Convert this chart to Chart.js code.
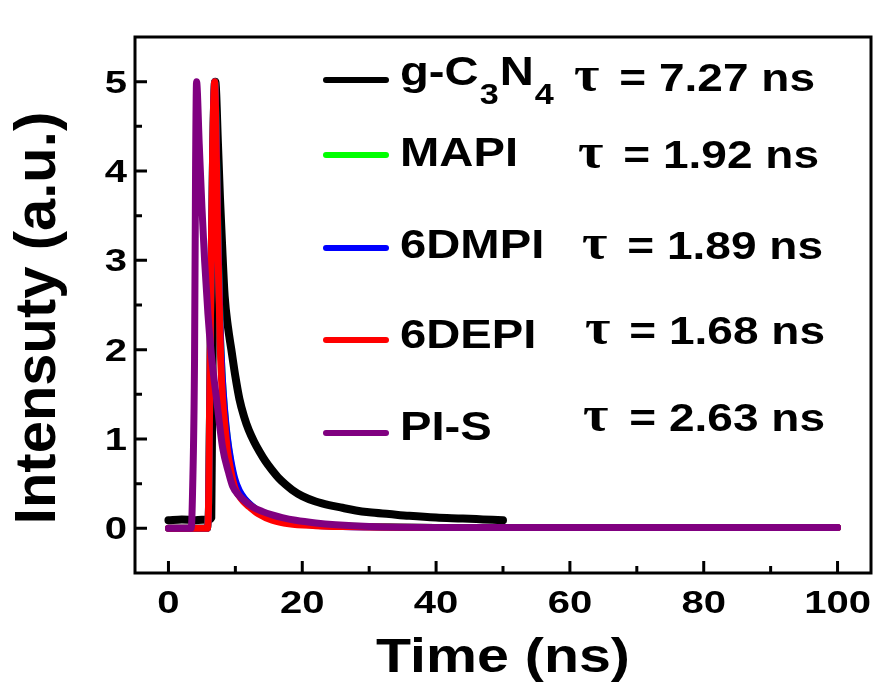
<!DOCTYPE html>
<html><head><meta charset="utf-8">
<script src="https://cdn.jsdelivr.net/npm/chart.js@4.4.0/dist/chart.umd.min.js"></script>
<style>html,body{margin:0;padding:0;background:#fff}#wrap{width:873px;height:684px;position:relative}</style>
</head><body><div id="wrap"><canvas id="c" width="873" height="684"></canvas></div>
<script>
// ---- data ----
const seriesNames = ['g-C3N4', 'MAPI', '6DMPI', '6DEPI', 'PI-S'];
const lifetimes = ['7.27', '1.92', '1.89', '1.68', '2.63'];
const seriesColors = ['#000000', '#00ff00', '#0000ff', '#ff0000', '#800080'];

const gcnTime = [0, 2, 4, 6, 6.4, 6.65, 7.0, 7.4, 7.7, 8.0, 8.4, 8.9, 9.4, 10.0, 10.6, 11.3, 12.0, 12.8, 13.6, 14.5, 15.5, 16.5, 17.5, 18.5, 20, 22, 24, 26, 28, 30, 33, 36, 40, 44, 47, 50];
const gcnInt  = [0.09, 0.1, 0.09, 0.1, 0.12, 2.5, 5.0, 4.3, 3.7, 3.2, 2.6, 2.25, 2.0, 1.7, 1.45, 1.25, 1.1, 0.97, 0.86, 0.75, 0.65, 0.56, 0.49, 0.43, 0.36, 0.3, 0.26, 0.23, 0.2, 0.18, 0.16, 0.14, 0.12, 0.11, 0.1, 0.09];

const mapiTime = [0, 5.8, 6.0, 6.3, 6.6, 6.9, 7.15, 7.4, 7.7, 8.0, 8.4, 8.8, 9.3, 9.9, 10.5, 11.2, 12.1, 13.5, 15.5, 18, 22, 26, 30, 40, 50, 60, 70, 80, 90, 100];
const mapiInt  = [0, 0, 0.3, 2.5, 4.2, 5.0, 4.3, 3.2, 2.3, 1.75, 1.3, 1.0, 0.74, 0.53, 0.42, 0.34, 0.27, 0.19, 0.12, 0.07, 0.04, 0.025, 0.02, 0.01, 0.01, 0.01, 0.01, 0.01, 0.01, 0.01];

const dmpiTime = [0, 5.8, 6.0, 6.3, 6.6, 6.9, 7.15, 7.4, 7.7, 8.0, 8.4, 8.8, 9.3, 9.9, 10.6, 11.4, 12.3, 13.5, 15.5, 18, 22, 26, 30, 40, 50, 60, 70, 80, 90, 100];
const dmpiInt  = [0, 0, 0.3, 2.5, 4.2, 5.0, 4.3, 3.2, 2.3, 1.75, 1.32, 1.02, 0.77, 0.56, 0.42, 0.33, 0.26, 0.19, 0.12, 0.065, 0.035, 0.02, 0.015, 0.01, 0.01, 0.01, 0.01, 0.01, 0.01, 0.01];

const depiTime = [0, 5.8, 6.0, 6.3, 6.6, 6.9, 7.15, 7.4, 7.6, 7.8, 8.1, 8.5, 8.8, 9.3, 9.9, 10.5, 11.2, 12.1, 13.5, 15.5, 18, 22, 26, 30, 40, 50, 60, 70, 80, 90, 100];
const depiInt  = [0, 0, 0.3, 2.5, 4.2, 5.0, 4.2, 3.1, 2.5, 1.9, 1.44, 1.1, 0.88, 0.65, 0.46, 0.37, 0.3, 0.24, 0.16, 0.09, 0.05, 0.03, 0.02, 0.015, 0.01, 0.01, 0.01, 0.01, 0.01, 0.01, 0.01];

const pisTime = [0, 3.4, 3.6, 3.9, 4.05, 4.2, 4.6, 5.0, 5.4, 5.9, 6.4, 7.2, 8.1, 9.0, 9.6, 10.5, 11.5, 12.6, 14, 15.5, 17, 19, 22, 25, 30, 40, 50, 60, 70, 80, 90, 100];
const pisInt  = [0, 0, 0.4, 1.9, 4.0, 5.0, 4.3, 3.6, 3.0, 2.4, 1.95, 1.44, 0.9, 0.62, 0.47, 0.37, 0.3, 0.24, 0.19, 0.15, 0.12, 0.09, 0.06, 0.04, 0.02, 0.01, 0.01, 0.01, 0.01, 0.01, 0.01, 0.01];

const xMajorTicks = [0, 20, 40, 60, 80, 100];
const xMinorTicks = [10, 30, 50, 70, 90];
const yMajorTicks = [0, 1, 2, 3, 4, 5];
const yMinorTicks = [0.5, 1.5, 2.5, 3.5, 4.5];
const xTitle = 'Time (ns)';
const yTitle = 'Intensuty (a.u.)';

// ---- build chart ----
function pts(t, v) { return t.map((x, i) => ({ x: x, y: v[i] })); }
const seriesData = [pts(gcnTime, gcnInt), pts(mapiTime, mapiInt), pts(dmpiTime, dmpiInt), pts(depiTime, depiInt), pts(pisTime, pisInt)];
const drawOrder = [5, 4, 3, 2, 1];
const lineWidths = [8, 7, 7, 7, 7];

const SANS = '"Liberation Sans", Arial, sans-serif';
const SERIF = '"Liberation Serif", "Times New Roman", serif';

function txt(ctx, s, x, y, size, sx, align, fam) {
  ctx.save();
  ctx.font = 'bold ' + size + 'px ' + (fam || SANS);
  ctx.translate(x, y);
  ctx.scale(sx, 1);
  ctx.textAlign = align || 'left';
  ctx.textBaseline = 'alphabetic';
  ctx.fillStyle = '#000';
  ctx.fillText(s, 0, 0);
  const w = ctx.measureText(s).width * sx;
  ctx.restore();
  return w;
}

const decor = {
  id: 'decor',
  afterDraw(chart) {
    const ctx = chart.ctx, a = chart.chartArea;
    const xs = chart.scales.x, ys = chart.scales.y;
    ctx.save();
    ctx.strokeStyle = '#000';
    ctx.lineWidth = 3;
    ctx.lineCap = 'butt';
    ctx.strokeRect(a.left, a.top, a.right - a.left, a.bottom - a.top);
    ctx.beginPath();
    xMajorTicks.forEach(v => { const p = xs.getPixelForValue(v); ctx.moveTo(p, a.bottom); ctx.lineTo(p, a.bottom - 12); });
    xMinorTicks.forEach(v => { const p = xs.getPixelForValue(v); ctx.moveTo(p, a.bottom); ctx.lineTo(p, a.bottom - 7); });
    yMajorTicks.forEach(v => { const p = ys.getPixelForValue(v); ctx.moveTo(a.left, p); ctx.lineTo(a.left + 12, p); });
    yMinorTicks.forEach(v => { const p = ys.getPixelForValue(v); ctx.moveTo(a.left, p); ctx.lineTo(a.left + 7, p); });
    ctx.stroke();
    ctx.restore();

    xMajorTicks.forEach(v => txt(ctx, String(v), xs.getPixelForValue(v), 613, 32, 1.25, 'center'));
    yMajorTicks.forEach(v => txt(ctx, String(v), 127, ys.getPixelForValue(v) + 11, 32, 1.25, 'right'));

    txt(ctx, xTitle, (a.left + a.right) / 2, 672, 49, 1.17, 'center');
    ctx.save();
    ctx.translate(55, 318);
    ctx.rotate(-Math.PI / 2);
    txt(ctx, yTitle, 0, 0, 58, 1, 'center');
    ctx.restore();

    // legend
    const lineY = [80, 155, 248, 340, 433];
    const textBase = [85, 166, 258, 348, 440];
    const tauStart = [574, 578, 582, 585, 583];
    const tauEnd = [815, 819, 823, 825, 825];
    const tauBase = [91, 168, 259, 344, 431];
    ctx.save();
    ctx.lineWidth = 6;
    ctx.lineCap = 'round';
    seriesNames.forEach((n, i) => {
      ctx.strokeStyle = seriesColors[i];
      ctx.beginPath(); ctx.moveTo(326, lineY[i]); ctx.lineTo(386, lineY[i]); ctx.stroke();
    });
    ctx.restore();
    seriesNames.forEach((n, i) => {
      if (n === 'g-C3N4') {
        let x = 400;
        x += txt(ctx, 'g-C', x, textBase[i], 40, 1.18, 'left');
        x += txt(ctx, '3', x + 1, textBase[i] + 19, 29, 1.18, 'left') + 2;
        x += txt(ctx, 'N', x, textBase[i], 40, 1.18, 'left');
        txt(ctx, '4', x + 1, textBase[i] + 19, 29, 1.18, 'left');
      } else {
        txt(ctx, n, 400, textBase[i], 40, 1.18, 'left');
      }
      txt(ctx, '\u03C4', tauStart[i], tauBase[i], 50, 1.1, 'left', SERIF);
      txt(ctx, '= ' + lifetimes[i] + ' ns', tauEnd[i], tauBase[i], 39, 1.18, 'right');
    });
  }
};

new Chart(document.getElementById('c'), {
  type: 'line',
  data: {
    datasets: seriesNames.map((n, i) => ({
      label: n,
      data: seriesData[i],
      borderColor: seriesColors[i],
      backgroundColor: seriesColors[i],
      borderWidth: lineWidths[i],
      pointRadius: 0,
      fill: false,
      cubicInterpolationMode: 'monotone',
      borderCapStyle: 'round',
      borderJoinStyle: 'round',
      order: drawOrder[i]
    }))
  },
  options: {
    responsive: false,
    animation: false,
    devicePixelRatio: 1,
    layout: { padding: { left: 135, top: 37, right: 2, bottom: 111 } },
    plugins: { legend: { display: false }, tooltip: { enabled: false } },
    scales: {
      x: { type: 'linear', min: -5, max: 105, display: false },
      y: { type: 'linear', min: -0.5, max: 5.5, display: false }
    }
  },
  plugins: [decor]
});
</script></body></html>
